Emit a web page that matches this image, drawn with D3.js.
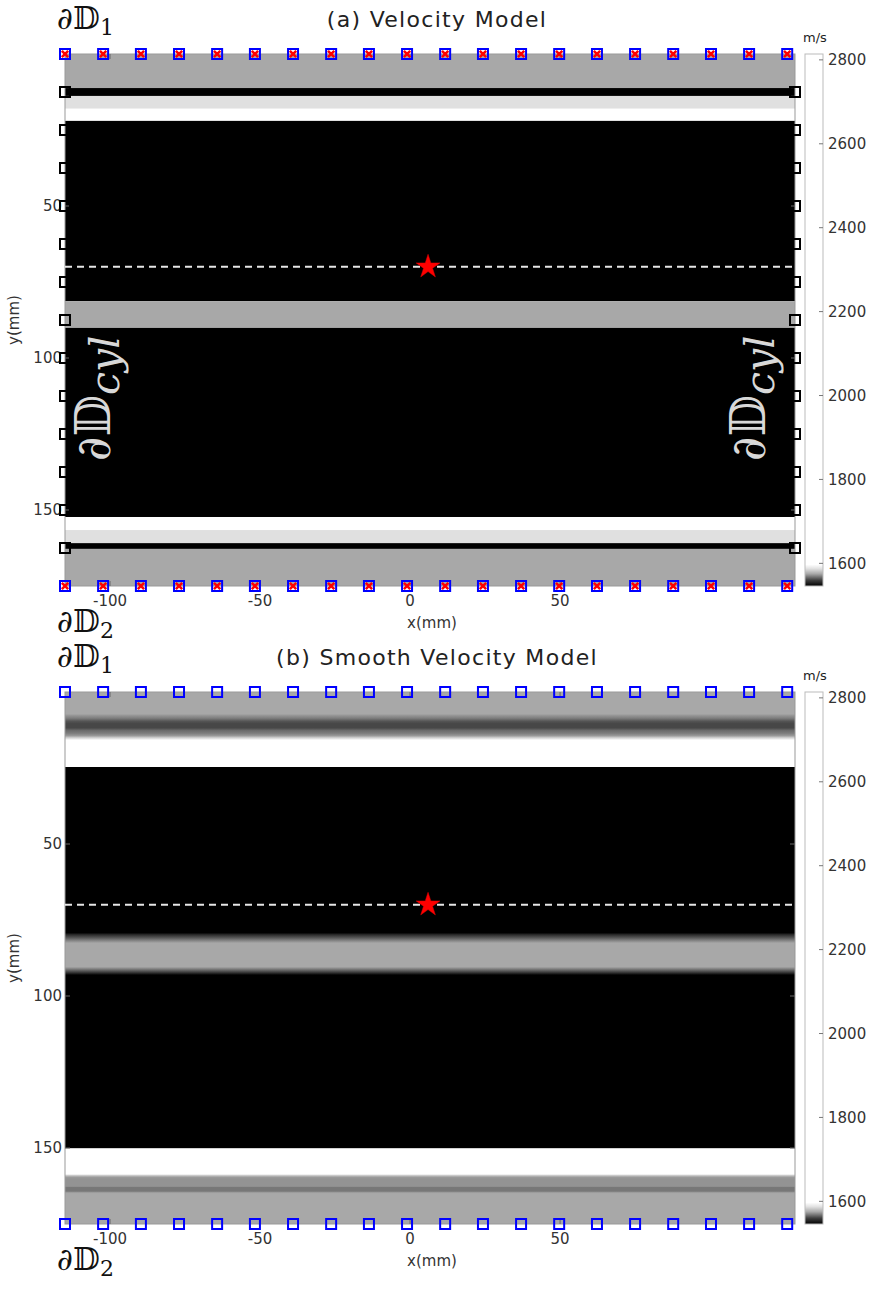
<!DOCTYPE html>
<html>
<head>
<meta charset="utf-8">
<script src="https://cdn.jsdelivr.net/npm/d3@7"></script>
<style>
  html, body { margin: 0; padding: 0; background: #fff; }
  svg { display: block; }
  text { font-family: "DejaVu Sans", sans-serif; }
</style>
</head>
<body>
<svg id="chart" width="869" height="1291"></svg>
<script>
// ---- data -------------------------------------------------------------
const xDomain = [-115, 128.3];        // mm
const yDomain = [0, 175];             // mm (depth, increasing downward)
const xTicks = [-100, -50, 0, 50];
const yTicks = [50, 100, 150];
const cbTicks = [1600, 1800, 2000, 2200, 2400, 2600, 2800];
const cbDomain = [1546, 2814];        // m/s

// grey colormap break points (velocity -> grey level)
const cmapVel  = [1546, 1560, 1575, 1587, 1597];
const cmapGrey = [0, 64, 168, 224, 255];

// layered (true) model: layer tops (mm) and velocities (m/s)
const layerTop = [0, 11.2, 13.8, 18.0, 22.0, 81.3, 90.1, 152.3, 156.6, 160.9, 162.8];
const layerVel = [1575, 1500, 1587, 2800, 1500, 1575, 1500, 2800, 1587, 1500, 1575];

// smoothed model: depth samples (mm) and velocities (m/s)
const smoothDepth = [0, 7.2, 7.8, 8.6, 9.6, 10.4, 11.8, 12.6, 13.6, 14.4, 15.0, 15.8, 16.5, 19.0, 22.0, 24.4, 24.6, 24.8, 25.2,
                     78.8, 79.2, 79.8, 80.8, 81.8, 82.6, 90.4, 91.0, 91.8, 92.5, 93.1, 93.5,
                     149.8, 150.0, 150.2, 151.0, 154.0, 157.0, 158.6, 159.0, 159.6, 160.2, 162.6, 163.0, 164.2, 164.6, 165.0, 175];
const smoothVel   = [1575, 1575, 1572, 1569, 1563, 1561, 1561, 1566, 1569, 1573, 1583, 1600, 2000, 2600, 2600, 1800, 1600, 1540, 1500,
                     1500, 1546, 1555, 1563, 1570, 1575, 1575, 1570, 1563, 1555, 1546, 1500,
                     1500, 1540, 1600, 2000, 2600, 2000, 1600, 1583, 1573, 1572, 1572, 1568, 1568, 1573, 1575, 1575];

// acquisition geometry
const sourceX = [-115, -102.3, -89.7, -77, -64.3, -51.7, -39, -26.3, -13.7, -1,
                 11.7, 24.3, 37, 49.7, 62.3, 75, 87.7, 100.3, 113, 125.7];
const sourceY = [0, 175];
const receiverY = [12.5, 25, 37.5, 50, 62.5, 75, 87.5, 100, 112.5, 125, 137.5, 150, 162.5];
const receiverX = [-115, 128.3];
const targetDepth = 70;               // dashed line (mm)
const shot = { x: 6, y: 70 };         // star

const panels = [
  { id: "a", title: "(a) Velocity Model", top: 54, smooth: false },
  { id: "b", title: "(b) Smooth Velocity Model", top: 692, smooth: true }
];

// ---- layout -----------------------------------------------------------
const plotLeft = 65, plotRight = 795, plotH = 532;
const cbLeft = 805, cbRight = 823;

const svg = d3.select("#chart");
const defs = svg.append("defs");

const grey = d3.scaleLinear().domain(cmapVel).range(cmapGrey).clamp(true);
const colour = v => { const g = Math.round(grey(v)); return d3.rgb(g, g, g).formatHex(); };

const x = d3.scaleLinear().domain(xDomain).range([plotLeft, plotRight]);

panels.forEach(p => {
  const y = d3.scaleLinear().domain(yDomain).range([p.top, p.top + plotH]);
  const g = svg.append("g").attr("class", "panel-" + p.id);

  // velocity image
  if (!p.smooth) {
    const layers = layerTop.map((t, i) => ({
      top: t,
      bottom: i < layerTop.length - 1 ? layerTop[i + 1] : yDomain[1],
      v: layerVel[i]
    }));
    g.selectAll("rect.layer").data(layers).join("rect")
      .attr("class", "layer")
      .attr("x", x(xDomain[0])).attr("width", x(xDomain[1]) - x(xDomain[0]))
      .attr("y", d => y(d.top)).attr("height", d => y(d.bottom) - y(d.top))
      .attr("fill", d => colour(d.v));
  } else {
    const grad = defs.append("linearGradient").attr("id", "smooth-" + p.id)
      .attr("x1", 0).attr("y1", 0).attr("x2", 0).attr("y2", 1);
    grad.selectAll("stop").data(smoothDepth.map((d, i) => ({ d, v: smoothVel[i] }))).join("stop")
      .attr("offset", s => (s.d - yDomain[0]) / (yDomain[1] - yDomain[0]))
      .attr("stop-color", s => colour(s.v));
    g.append("rect")
      .attr("x", x(xDomain[0])).attr("width", x(xDomain[1]) - x(xDomain[0]))
      .attr("y", y(yDomain[0])).attr("height", y(yDomain[1]) - y(yDomain[0]))
      .attr("fill", `url(#smooth-${p.id})`);
  }

  // cylinder boundary labels (panel a), clipped below the middle layer
  if (!p.smooth) {
    const clip = defs.append("clipPath").attr("id", "cylclip-" + p.id);
    clip.append("rect")
      .attr("x", x(xDomain[0])).attr("width", x(xDomain[1]) - x(xDomain[0]))
      .attr("y", y(layerTop[6])).attr("height", y(yDomain[1]) - y(layerTop[6]));
    const cg = g.append("g").attr("clip-path", `url(#cylclip-${p.id})`);
    [110, 765].forEach(bx => {
      const t = cg.append("text")
        .attr("transform", `translate(${bx},${y(134)}) rotate(-90)`)
        .attr("fill", "#d8d8d8")
        .style("font-family", "'DejaVu Serif', 'Liberation Serif', serif")
        .style("font-size", "48px");
      t.append("tspan").text("\u2202\u{1D53B}");
      t.append("tspan").attr("dy", 9).style("font-style", "italic").style("font-size", "41px").text("cyl");
    });
  }

  // frame
  g.append("rect")
    .attr("x", plotLeft).attr("y", p.top).attr("width", plotRight - plotLeft).attr("height", plotH)
    .attr("fill", "none").attr("stroke", "#999").attr("stroke-width", 1);

  // inward ticks
  const tickLen = 5;
  g.selectAll("line.xt-top").data(xTicks).join("line")
    .attr("x1", d => x(d)).attr("x2", d => x(d)).attr("y1", p.top).attr("y2", p.top + tickLen)
    .attr("stroke", "#666");
  g.selectAll("line.xt-bot").data(xTicks).join("line")
    .attr("x1", d => x(d)).attr("x2", d => x(d)).attr("y1", p.top + plotH).attr("y2", p.top + plotH - tickLen)
    .attr("stroke", "#666");
  g.selectAll("line.yt").data(yTicks).join("line")
    .attr("x1", plotLeft).attr("x2", plotLeft + tickLen).attr("y1", d => y(d)).attr("y2", d => y(d))
    .attr("stroke", "#666");
  g.selectAll("line.yt-r").data(yTicks).join("line")
    .attr("x1", plotRight).attr("x2", plotRight - tickLen).attr("y1", d => y(d)).attr("y2", d => y(d))
    .attr("stroke", "#666");

  // tick labels
  g.selectAll("text.xl").data(xTicks).join("text")
    .attr("x", d => x(d)).attr("y", p.top + plotH + 20)
    .attr("text-anchor", "middle").attr("fill", "#333").style("font-size", "15px")
    .text(d => d < 0 ? "-" + Math.abs(d) : d);
  g.selectAll("text.yl").data(yTicks).join("text")
    .attr("x", plotLeft - 3).attr("y", d => y(d)).attr("dy", "0.35em")
    .attr("text-anchor", "end").attr("fill", "#333").style("font-size", "15px")
    .text(d => d);

  // axis titles
  g.append("text").attr("x", 432).attr("y", p.top + plotH + 42)
    .attr("text-anchor", "middle").attr("fill", "#333").style("font-size", "15px").text("x(mm)");
  g.append("text")
    .attr("transform", `translate(19,${p.top + plotH / 2}) rotate(-90)`)
    .attr("text-anchor", "middle").attr("fill", "#333").style("font-size", "15px").text("y(mm)");

  // panel title
  g.append("text").attr("x", 437).attr("y", p.top - 27)
    .attr("text-anchor", "middle").attr("fill", "#222")
    .style("font-size", "22px").style("letter-spacing", "1.3px").text(p.title);

  // boundary labels
  const bnd = (lbl, sub, yy) => {
    const t = g.append("text").attr("x", 57).attr("y", yy)
      .style("font-family", "'DejaVu Serif', 'Liberation Serif', serif")
      .style("font-size", "31px").attr("fill", "#111");
    t.append("tspan").text(lbl);
    t.append("tspan").attr("dy", 6).style("font-size", "22px").text(sub);
  };
  bnd("\u2202\u{1D53B}", "1", p.top - 25);
  bnd("\u2202\u{1D53B}", "2", p.top + plotH + 46);

  // dashed target line
  g.append("line")
    .attr("x1", x(xDomain[0])).attr("x2", x(xDomain[1]))
    .attr("y1", y(targetDepth)).attr("y2", y(targetDepth))
    .attr("stroke", "#e6e6e6").attr("stroke-width", 2).attr("stroke-dasharray", "7,5");

  // star
  g.append("path")
    .attr("d", d3.symbol(d3.symbolStar, 175)())
    .attr("transform", `translate(${x(shot.x)},${y(shot.y)})`)
    .attr("fill", "#ff0000").attr("stroke", "#e00000").attr("stroke-width", 0.5);

  // receivers (panel a)
  if (!p.smooth) {
    const recs = [];
    receiverX.forEach(rx => receiverY.forEach(ry => recs.push({ x: rx, y: ry })));
    g.selectAll("rect.rec").data(recs).join("rect")
      .attr("class", "rec")
      .attr("x", d => x(d.x) - 5).attr("y", d => y(d.y) - 5).attr("width", 10).attr("height", 10)
      .attr("fill", "none").attr("stroke", "#000").attr("stroke-width", 2);
  }

  // sources
  const srcs = [];
  sourceY.forEach(sy => sourceX.forEach(sx => srcs.push({ x: sx, y: sy })));
  g.selectAll("rect.src").data(srcs).join("rect")
    .attr("class", "src")
    .attr("x", d => x(d.x) - 5).attr("y", d => y(d.y) - 5).attr("width", 10).attr("height", 10)
    .attr("fill", "none").attr("stroke", "#0000ff").attr("stroke-width", 2);
  if (!p.smooth) {
    const cross = d3.symbol(d3.symbolX, 28);
    g.selectAll("path.srcx").data(srcs).join("path")
      .attr("class", "srcx")
      .attr("d", cross())
      .attr("transform", d => `translate(${x(d.x)},${y(d.y)})`)
      .attr("fill", "none").attr("stroke", "#ff0000").attr("stroke-width", 2.5);
  }

  // colourbar
  const cy = d3.scaleLinear().domain(cbDomain).range([p.top + plotH, p.top]);
  const cgrad = defs.append("linearGradient").attr("id", "cbar-" + p.id)
    .attr("x1", 0).attr("y1", 1).attr("x2", 0).attr("y2", 0);
  cgrad.selectAll("stop").data(cmapVel.concat([cbDomain[1]])).join("stop")
    .attr("offset", v => (v - cbDomain[0]) / (cbDomain[1] - cbDomain[0]))
    .attr("stop-color", v => colour(v));
  g.append("rect")
    .attr("x", cbLeft).attr("y", p.top).attr("width", cbRight - cbLeft).attr("height", plotH)
    .attr("fill", `url(#cbar-${p.id})`).attr("stroke", "#bbb").attr("stroke-width", 1);
  g.selectAll("line.cbt").data(cbTicks).join("line")
    .attr("x1", cbRight - 4).attr("x2", cbRight).attr("y1", d => cy(d)).attr("y2", d => cy(d))
    .attr("stroke", "#777");
  g.selectAll("text.cbl").data(cbTicks).join("text")
    .attr("x", cbRight + 5).attr("y", d => cy(d)).attr("dy", "0.35em")
    .attr("fill", "#333").style("font-size", "15px").text(d => d);
  g.append("text").attr("x", cbLeft + 10).attr("y", p.top - 12)
    .attr("text-anchor", "middle").attr("fill", "#222").style("font-size", "13px").text("m/s");
});
</script>
</body>
</html>
